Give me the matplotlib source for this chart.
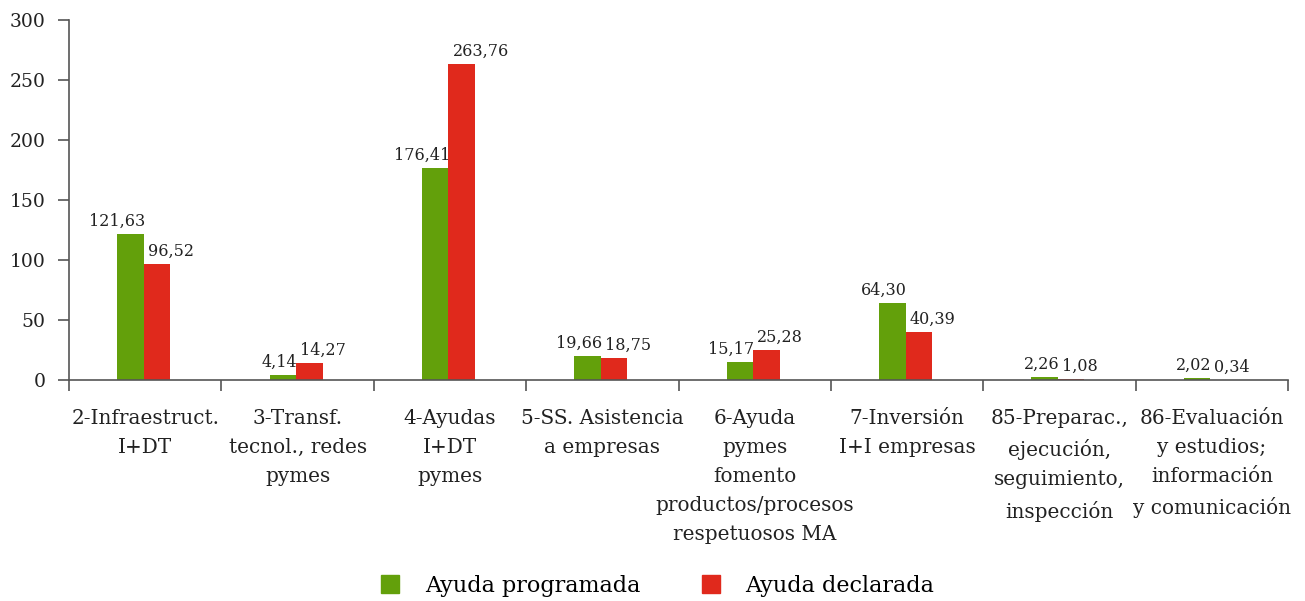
import matplotlib.pyplot as plt
from matplotlib.lines import Line2D
import numpy as np

# Data
categories = [
    "2-Infraestruct.\nI+DT",
    "3-Transf.\ntecnol., redes\npymes",
    "4-Ayudas\nI+DT\npymes",
    "5-SS. Asistencia\na empresas",
    "6-Ayuda\npymes\nfomento\nproductos/procesos\nrespetuosos MA",
    "7-Inversión\nI+I empresas",
    "85-Preparac.,\nejecución,\nseguimiento,\ninspección",
    "86-Evaluación\ny estudios;\ninformación\ny comunicación",
]
programada = [121.63, 4.14, 176.41, 19.66, 15.17, 64.30, 2.26, 2.02]
declarada = [96.52, 14.27, 263.76, 18.75, 25.28, 40.39, 1.08, 0.34]

green = "#63a00b"
red = "#e0291c"
axis_col = "#555555"
text_col = "#222222"

plt.rcParams['font.family'] = ['DejaVu Serif']

fig = plt.figure(figsize=(13.05, 6.01), dpi=100)
ax = fig.add_axes([0.0529, 0.3677, 0.9341, 0.599])

x = np.arange(len(categories))
w = 0.174
ax.bar(x - w / 2 - 0.01, programada, w, color=green, label="Ayuda programada")
ax.bar(x + w / 2 - 0.01, declarada, w, color=red, label="Ayuda declarada")

def fmt(v):
    return f"{v:.2f}".replace(".", ",")

for i in range(len(categories)):
    ax.annotate(fmt(programada[i]), (x[i] - 0.01, programada[i]),
                xytext=(1, 3), textcoords="offset points",
                ha="right", va="bottom", fontsize=11.5, color=text_col)
    ax.annotate(fmt(declarada[i]), (x[i] - 0.01, declarada[i]),
                xytext=(3, 3), textcoords="offset points",
                ha="left", va="bottom", fontsize=11.5, color=text_col)

ax.set_xlim(-0.5, len(categories) - 0.5)
ax.set_ylim(0, 300)
ax.set_yticks(np.arange(0, 301, 50))
ax.set_xticks(x)
ax.set_xticklabels(categories, fontsize=14.4, linespacing=1.66, color=text_col)
ax.set_xticks(np.arange(-0.5, len(categories), 1), minor=True)
ax.tick_params(axis="x", which="major", length=0, pad=21)
ax.tick_params(axis="x", which="minor", length=8, width=1.2, color=axis_col, direction="out")
ax.tick_params(axis="y", labelsize=13.5, length=8, width=1.2, pad=9,
               color=axis_col, labelcolor=text_col)

for s in ["top", "right"]:
    ax.spines[s].set_visible(False)
for s in ["left", "bottom"]:
    ax.spines[s].set_color(axis_col)
    ax.spines[s].set_linewidth(1.2)

handles = [
    Line2D([], [], marker="s", linestyle="none", markersize=13, color=green),
    Line2D([], [], marker="s", linestyle="none", markersize=13, color=red),
]
fig.legend(handles, ["Ayuda programada", "Ayuda declarada"], loc="center",
           bbox_to_anchor=(0.499, 0.025), ncol=2, frameon=False,
           fontsize=16, handletextpad=0.55, columnspacing=2.2)

fig.savefig("out.png", dpi=100)
